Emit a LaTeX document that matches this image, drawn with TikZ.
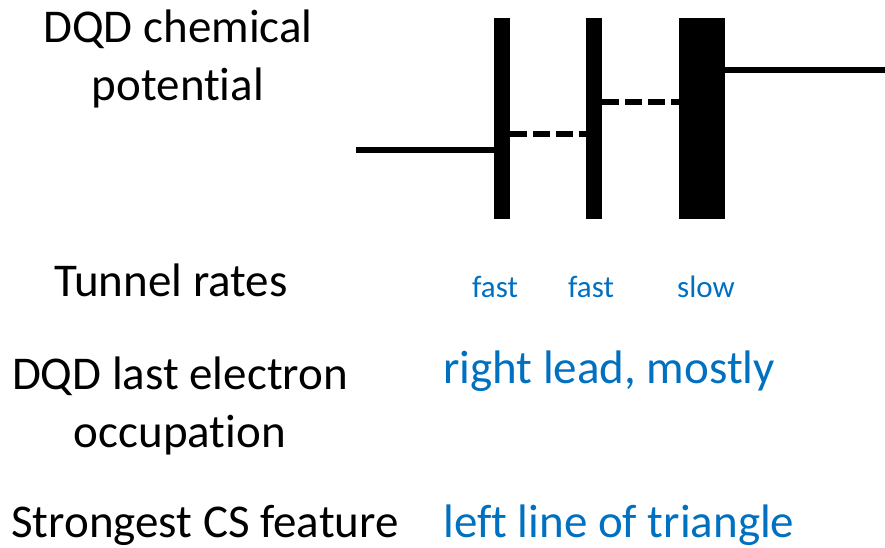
\documentclass[tikz,border=0pt]{standalone}
\usepackage{fontspec}
\setmainfont{Carlito}[Ligatures=NoCommon]
\usepackage{xcolor}
\definecolor{RateBlue}{HTML}{0070C0}
\usetikzlibrary{positioning}

\begin{document}
\begin{tikzpicture}[x=1pt, y=-1pt, every node/.style={inner sep=0pt, font=\fontsize{47}{58}\selectfont}]
\tikzset{barrier/.style={draw=none, fill=black, minimum height=201pt, anchor=north}}
\tikzset{level/.style={line width=6pt}}
\tikzset{dashlevel/.style={level, dash pattern=on 17pt off 6pt}}
\tikzset{rowlabel/.style={align=center, anchor=base}}
\tikzset{bluetext/.style={text=RateBlue, anchor=base}}
\tikzset{ratetext/.style={bluetext, font=\fontsize{31}{36}\selectfont}}
\useasboundingbox (0,0) rectangle (885,547);
% barriers
\node[barrier, minimum width=16pt] (b1) at (502,18) {};
\node[barrier, minimum width=16pt] (b2) at (594,18) {};
\node[barrier, minimum width=46pt] (b3) at (702,18) {};
% leads and dot levels
\coordinate (leadL) at (356,150);
\coordinate (leadR) at (885,70);
\coordinate (lvl1) at (510,134);
\coordinate (lvl2) at (602,102);
\draw[level] (leadL) -- (leadL -| b1.west);
\draw[dashlevel] (lvl1 -| b1.east) -- (lvl1 -| b2.west);
\draw[dashlevel] (lvl2 -| b2.east) -- (lvl2 -| b3.west);
\draw[level] (leadR -| b3.east) -- (leadR);
% row labels (base = last line)
\node[rowlabel] (chem) at (178,100) {DQD chemical\\potential};
\node[rowlabel] (tunnel) at (171,296) {Tunnel rates};
\node[rowlabel] (occ) at (180,447) {DQD last electron\\occupation};
\node[rowlabel] (cs) at (205,537) {Strongest CS feature};
% values
\node[ratetext] (rate1) at (495,297) {fast};
\node[ratetext] (rate2) at (591,297) {fast};
\node[ratetext] (rate3) at (706,297) {slow};
\node[bluetext] (occval) at (609,383) {right lead, mostly};
\node[bluetext] (csval) at (619,537) {left line of triangle};
\end{tikzpicture}
\end{document}
